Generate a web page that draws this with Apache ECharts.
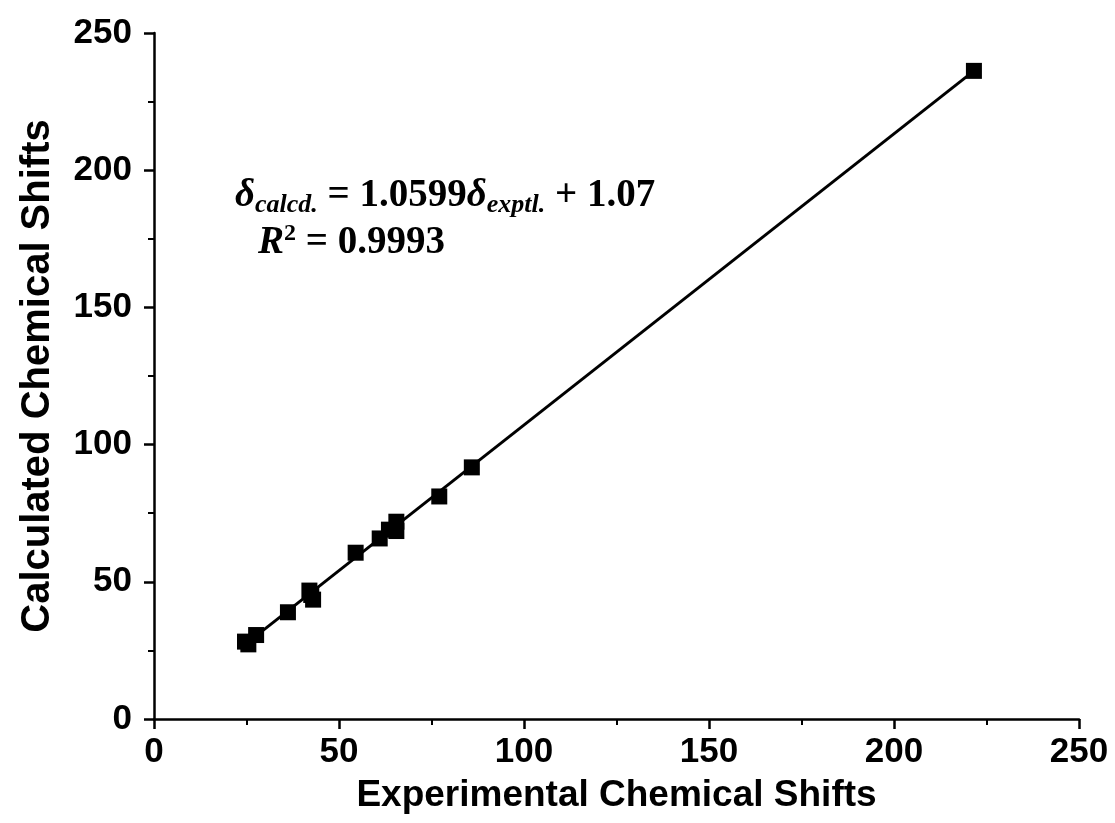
<!DOCTYPE html>
<html style="height: 100%" lang="en">
<head>
    <meta charset="UTF-8">
    <title>Calculated vs Experimental Chemical Shifts</title>
</head>
<body style="height: 100%; margin: 0; background: #fff">
<div id="main" style="width: 1115px; height: 823px"></div>

<script src="https://cdn.jsdelivr.net/npm/echarts@6/dist/echarts.min.js"></script>
<script type="text/javascript">

    // experimental vs calculated shifts
    var exptl = [24.6, 25.5, 27.6, 36.2, 42.0, 42.5, 43.0, 54.5, 61.0, 63.5, 65.5, 65.5, 77.1, 85.9, 221.6];
    var calcd = [28.2, 27.2, 30.6, 38.9, 46.8, 45.2, 43.5, 60.6, 65.8, 69.0, 71.9, 68.5, 81.1, 91.7, 236.2];
    // fitted line end points
    var fitX = [24.5, 221.6];
    var fitY = [27.0, 236.2];
    var ticks = [0, 50, 100, 150, 200, 250];

    var points = exptl.map(function (x, i) { return [x, calcd[i]]; });
    var fit = fitX.map(function (x, i) { return [x, fitY[i]]; });

    var axisCommon = {
        min: ticks[0],
        max: ticks[ticks.length - 1],
        interval: 50,
        splitLine: {show: false},
        axisLine: {onZero: false, lineStyle: {color: '#000', width: 2.5}},
        axisTick: {inside: false, length: 10, lineStyle: {color: '#000', width: 2.5}},
        minorTick: {show: true, splitNumber: 2, length: 6, lineStyle: {color: '#000', width: 2}},
        nameLocation: 'middle'
    };
    var labelFont = {fontFamily: 'Liberation Sans', fontWeight: 'bold', fontSize: 35, color: '#000'};

    var myChart = echarts.init(document.getElementById('main'));
    var option = {
        animation: false,
        grid: {left: 154, right: 36, top: 33, bottom: 104},
        xAxis: Object.assign({}, axisCommon, {
            type: 'value',
            name: 'Experimental Chemical Shifts',
            nameGap: 58,
            nameTextStyle: {fontFamily: 'Liberation Sans', fontWeight: 'bold', fontSize: 37, color: '#000'},
            axisLabel: Object.assign({margin: 16}, labelFont)
        }),
        yAxis: Object.assign({}, axisCommon, {
            type: 'value',
            name: 'Calculated Chemical Shifts',
            nameGap: 96,
            nameTextStyle: {fontFamily: 'Liberation Sans', fontWeight: 'bold', fontSize: 40, color: '#000'},
            axisLabel: Object.assign({margin: 22}, labelFont)
        }),
        graphic: [
            {
                type: 'text',
                left: 235,
                top: 174,
                style: {
                    text: '{g|δ}{s|calcd.}{m| = 1.0599}{g|δ}{s|exptl.}{m| + 1.07}',
                    fill: '#000',
                    rich: {
                        g: {fontFamily: 'Liberation Serif', fontStyle: 'italic', fontWeight: 'bold', fontSize: 39, lineHeight: 46, color: '#000'},
                        m: {fontFamily: 'Liberation Serif', fontWeight: 'bold', fontSize: 39, lineHeight: 46, color: '#000'},
                        s: {fontFamily: 'Liberation Serif', fontStyle: 'italic', fontWeight: 'bold', fontSize: 26, lineHeight: 46, padding: [18, 0, 0, 0], color: '#000'}
                    }
                }
            },
            {
                type: 'text',
                left: 258,
                top: 222,
                style: {
                    text: '{r|R}{p|2}{m| = 0.9993}',
                    fill: '#000',
                    rich: {
                        r: {fontFamily: 'Liberation Serif', fontStyle: 'italic', fontWeight: 'bold', fontSize: 39, lineHeight: 46, color: '#000'},
                        m: {fontFamily: 'Liberation Serif', fontWeight: 'bold', fontSize: 39, lineHeight: 46, color: '#000'},
                        p: {fontFamily: 'Liberation Serif', fontWeight: 'bold', fontSize: 24, lineHeight: 46, padding: [0, 0, 18, 0], color: '#000'}
                    }
                }
            }
        ],
        series: [
            {
                type: 'line',
                data: fit,
                symbol: 'none',
                lineStyle: {color: '#000', width: 3}
            },
            {
                type: 'scatter',
                data: points,
                symbol: 'rect',
                symbolSize: 16,
                itemStyle: {color: '#000', opacity: 1}
            }
        ]
    };

    myChart.setOption(option);

</script>
</body>
</html>
